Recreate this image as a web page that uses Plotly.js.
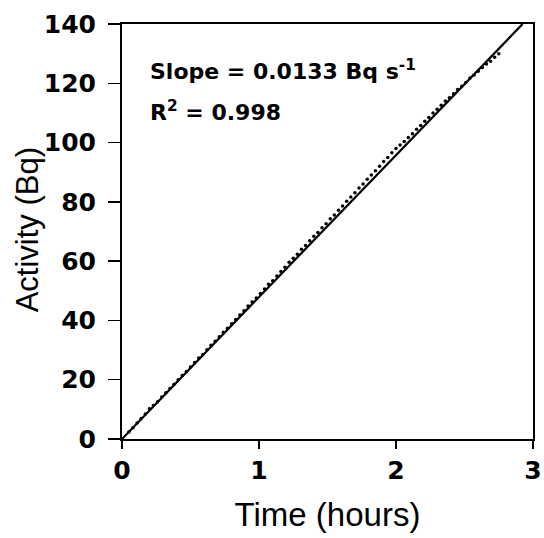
<!DOCTYPE html>
<html>
<head>
<meta charset="utf-8">
<script src="https://cdn.plot.ly/plotly-3.0.1.min.js"></script>
<style>html,body{margin:0;padding:0;background:#fff;}#chart{width:544px;height:538px;}</style>
</head>
<body>
<div id="chart"></div>
<script>
// Measured data (time in hours, activity in Bq)
const timeHours = [0.05,0.08,0.11,0.14,0.17,0.20,0.23,0.26,0.29,0.32,0.35,0.38,0.41,0.44,0.47,0.50,0.53,0.56,0.59,0.62,0.65,0.68,0.71,0.74,0.77,0.80,0.83,0.86,0.89,0.92,0.95,0.98,1.01,1.04,1.07,1.10,1.13,1.16,1.19,1.22,1.25,1.28,1.31,1.34,1.37,1.40,1.43,1.46,1.49,1.52,1.55,1.58,1.61,1.64,1.67,1.70,1.73,1.76,1.79,1.82,1.85,1.88,1.91,1.94,1.97,2.00,2.03,2.06,2.09,2.12,2.15,2.18,2.21,2.24,2.27,2.30,2.33,2.36,2.39,2.42,2.45,2.48,2.51,2.54,2.57,2.60,2.63,2.66,2.69,2.72,2.75];
const activityBq = [2.4,3.8,5.4,6.9,8.4,10.2,11.3,12.6,14.2,15.6,17.0,18.5,20.0,21.4,22.8,24.3,25.8,27.3,28.5,30.1,31.6,33.0,34.5,36.0,37.4,38.9,40.3,41.8,43.3,44.9,46.2,47.6,49.1,50.6,52.2,53.4,55.0,56.5,57.9,59.6,61.0,62.3,64.0,65.3,66.9,68.4,69.7,71.3,72.6,74.3,75.6,77.2,78.6,80.2,81.6,83.1,84.7,86.0,87.6,89.1,90.5,92.0,93.6,95.0,96.6,98.0,99.2,100.4,101.7,103.0,104.5,105.8,107.2,108.5,110.0,111.2,112.6,114.0,115.1,116.5,117.9,119.0,120.3,121.8,122.8,124.1,125.3,126.5,127.4,128.8,130.0];
// Fitted regression line endpoints
const fitTime = [0, 2.924];
const fitActivity = [0, 140];
const xTicks = [0, 1, 2, 3];
const yTicks = [0, 20, 40, 60, 80, 100, 120, 140];

const arial = "Arial, 'Liberation Sans', sans-serif";
const dejavu = "'DejaVu Sans', sans-serif";

const traces = [
  {x: timeHours, y: activityBq, type: 'scatter', mode: 'markers',
   marker: {color: '#000', size: 3.5}, cliponaxis: false, showlegend: false},
  {x: fitTime, y: fitActivity, type: 'scatter', mode: 'lines',
   line: {color: '#000', width: 2.2}, showlegend: false}
];

const axisCommon = {
  showline: true, linecolor: '#000', linewidth: 2, mirror: true,
  ticks: 'outside', tickwidth: 1.5, tickcolor: '#000',
  showgrid: false, zeroline: false,
  tickfont: {family: dejavu, size: 25, color: '#000', weight: 'bold'}
};

const layout = {
  width: 544, height: 538,
  margin: {l: 122, r: 11, t: 24, b: 99},
  paper_bgcolor: '#fff', plot_bgcolor: '#fff',
  xaxis: Object.assign({}, axisCommon, {
    range: [0, 3], tickvals: xTicks, ticktext: xTicks.map(String), ticklen: 8,
    title: {text: 'Time (hours)', font: {family: arial, size: 33, color: '#000'}, standoff: 19}
  }),
  yaxis: Object.assign({}, axisCommon, {
    range: [0, 140], tickvals: yTicks, ticktext: yTicks.map(String), ticklen: 12,
    ticklabelstandoff: 7
  }),
  annotations: [
    {xref: 'paper', yref: 'paper', x: -0.229, y: 0.505, xanchor: 'center', yanchor: 'middle',
     text: 'Activity (Bq)', textangle: -90, showarrow: false,
     font: {family: arial, size: 31, color: '#000'}},
    {xref: 'paper', yref: 'paper', x: 0.063, y: 0.89, xanchor: 'left', yanchor: 'middle',
     text: 'Slope = 0.0133 Bq s<sup>-1</sup>', showarrow: false,
     font: {family: dejavu, size: 22, color: '#000', weight: 'bold'}},
    {xref: 'paper', yref: 'paper', x: 0.063, y: 0.79, xanchor: 'left', yanchor: 'middle',
     text: 'R<sup>2</sup> = 0.998', showarrow: false,
     font: {family: dejavu, size: 22, color: '#000', weight: 'bold'}}
  ]
};

Plotly.newPlot('chart', traces, layout, {displayModeBar: false, staticPlot: true});
</script>
</body>
</html>
